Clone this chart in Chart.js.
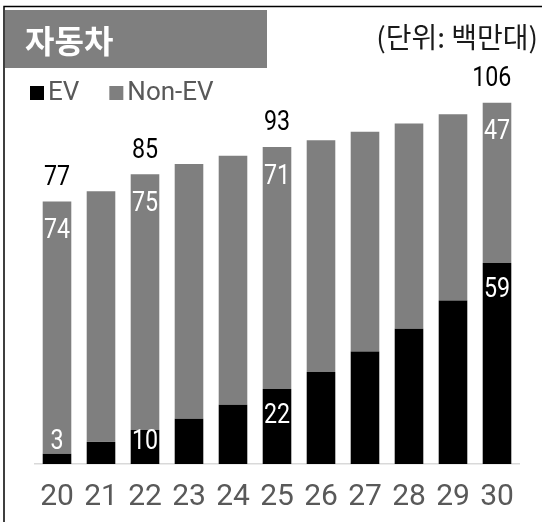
<!DOCTYPE html>
<html>
<head>
<meta charset="utf-8">
<script src="https://cdn.jsdelivr.net/npm/chart.js@4.4.0/dist/chart.umd.min.js"></script>
<style>
html, body { margin: 0; padding: 0; background: #fff; }
#wrap { width: 542px; height: 522px; }
</style>
</head>
<body>
<div id="wrap"><canvas id="evChart" width="542" height="522"></canvas></div>
<script>
// 자동차 판매 전망 (단위: 백만대)
const years = ['20', '21', '22', '23', '24', '25', '26', '27', '28', '29', '30'];
const evSales = [3, 6.5, 10, 13.3, 17.4, 22, 27, 33, 39.7, 48, 59];
const nonEvSales = [74, 73.5, 75, 74.7, 73, 71, 68, 64.5, 60.2, 54.6, 47];
const labeledYears = ['20', '22', '25', '30'];
const chartTitle = '자동차';
const unitText = '(단위: 백만대)';

const KR_FONT = "'Noto Sans CJK KR', 'Noto Sans', sans-serif";
const NUM_FONT = "Roboto, 'Liberation Sans', sans-serif";

function drawNumber(ctx, text, x, y, color) {
    ctx.save();
    ctx.translate(x, y);
    ctx.scale(0.86, 1);
    ctx.fillStyle = color;
    ctx.textAlign = 'center';
    ctx.textBaseline = 'middle';
    ctx.fillText(text, 0, 0);
    ctx.restore();
}

// frame, title box, unit and legend
const decorPlugin = {
    id: 'decor',
    beforeDraw: function(chart) {
        const ctx = chart.ctx;
        ctx.save();
        ctx.fillStyle = '#fff';
        ctx.fillRect(0, 0, chart.width, chart.height);

        ctx.strokeStyle = '#000';
        ctx.lineWidth = 1.5;
        ctx.beginPath();
        ctx.moveTo(4, chart.height);
        ctx.lineTo(4, 6.5);
        ctx.lineTo(chart.width, 6.5);
        ctx.stroke();

        ctx.fillStyle = '#7f7f7f';
        ctx.fillRect(5, 10, 262, 58);
        ctx.fillStyle = '#fff';
        ctx.font = 'bold 32px ' + KR_FONT;
        ctx.textAlign = 'left';
        ctx.textBaseline = 'middle';
        ctx.fillText(chartTitle, 25, 41);

        ctx.fillStyle = '#1a1a1a';
        ctx.font = '28px ' + KR_FONT;
        ctx.textAlign = 'right';
        ctx.fillText(unitText, 538, 37);

        // legend
        let x = 30;
        ctx.font = '26px ' + NUM_FONT;
        ctx.textAlign = 'left';
        chart.data.datasets.forEach(function(ds) {
            ctx.fillStyle = ds.backgroundColor;
            ctx.fillRect(x, 86, 14, 14);
            ctx.fillStyle = '#595959';
            ctx.fillText(ds.label, x + 18, 93);
            x += 18 + ctx.measureText(ds.label).width + 30;
        });
        ctx.restore();
    },
    afterDatasetsDraw: function(chart) {
        const ctx = chart.ctx;
        const evMeta = chart.getDatasetMeta(0);
        const nonMeta = chart.getDatasetMeta(1);
        ctx.save();
        ctx.font = '27px ' + NUM_FONT;
        years.forEach(function(yr, i) {
            if (labeledYears.indexOf(yr) < 0) return;
            const evBar = evMeta.data[i];
            const nonBar = nonMeta.data[i];
            const base = evBar.base;

            const evY = Math.min(evBar.y + 27, base - 22);
            drawNumber(ctx, String(evSales[i]), evBar.x, evY, '#fff');
            drawNumber(ctx, String(nonEvSales[i]), nonBar.x, nonBar.y + 30, '#fff');

            const total = String(Math.round(evSales[i] + nonEvSales[i]));
            const w = ctx.measureText(total).width * 0.86;
            const tx = Math.min(nonBar.x, nonBar.x + nonBar.width / 2 - w / 2);
            drawNumber(ctx, total, tx, nonBar.y - 23.5, '#000');
        });
        ctx.restore();
    }
};

new Chart(document.getElementById('evChart').getContext('2d'), {
    type: 'bar',
    data: {
        labels: years,
        datasets: [
            {
                label: 'EV',
                data: evSales,
                backgroundColor: '#000000',
                borderWidth: 0,
                barPercentage: 0.65,
                categoryPercentage: 1
            },
            {
                label: 'Non-EV',
                data: nonEvSales,
                backgroundColor: '#7f7f7f',
                borderWidth: 0,
                barPercentage: 0.65,
                categoryPercentage: 1
            }
        ]
    },
    options: {
        responsive: false,
        animation: false,
        devicePixelRatio: 1,
        layout: {
            padding: { left: 35, right: 23, top: 72, bottom: 0 }
        },
        plugins: {
            legend: { display: false },
            tooltip: { enabled: false }
        },
        scales: {
            x: {
                stacked: true,
                grid: { display: false, drawTicks: false },
                border: { display: true, color: '#d9d9d9', width: 1.5 },
                ticks: {
                    padding: 15,
                    color: '#595959',
                    font: { family: NUM_FONT, size: 30 }
                },
                afterFit: function(scale) {
                    scale.height = 58;
                }
            },
            y: {
                stacked: true,
                display: false,
                min: 0,
                max: 115
            }
        }
    },
    plugins: [decorPlugin]
});
</script>
</body>
</html>
